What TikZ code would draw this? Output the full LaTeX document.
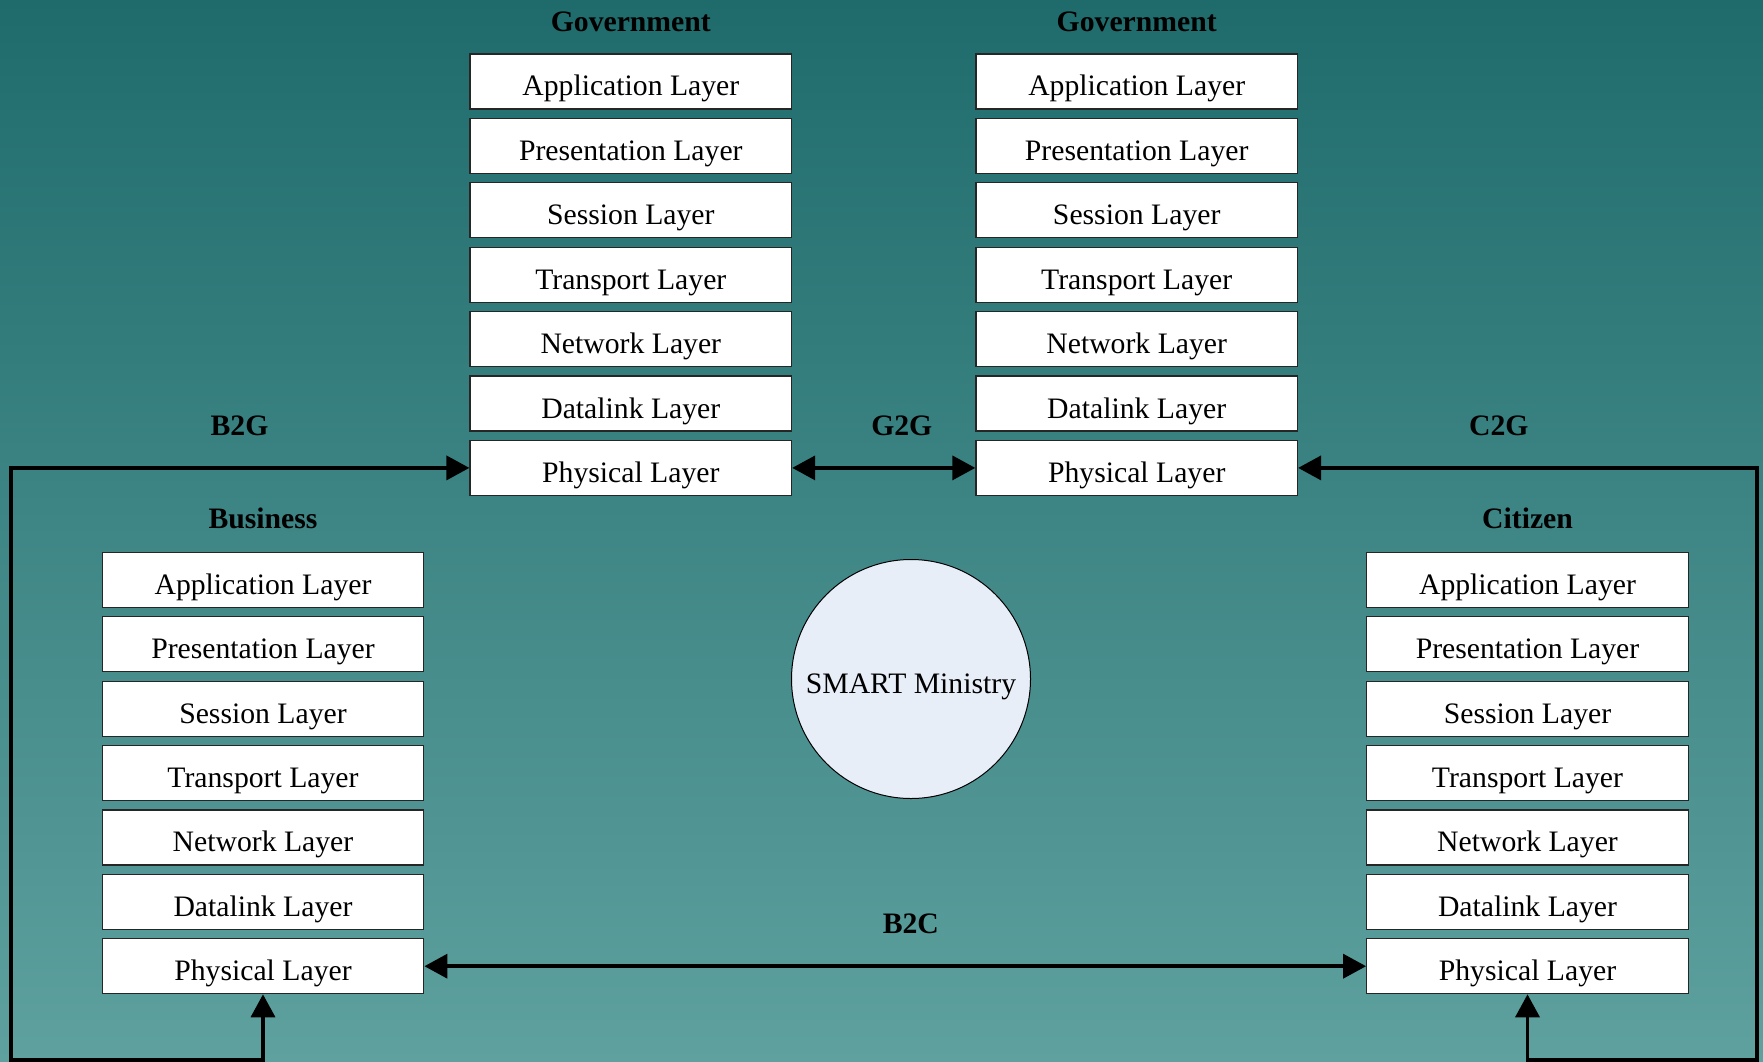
\documentclass[tikz,border=0pt]{standalone}
\usepackage{fontspec}
\setmainfont{Liberation Serif}
\usetikzlibrary{arrows.meta}
\definecolor{bgtop}{HTML}{1F6B6C}
\definecolor{bgbottom}{HTML}{5EA19F}
\definecolor{hubfill}{HTML}{E8EEF8}
\tikzset{
  layerbox/.style={draw=black!85, line width=1.2pt, fill=white,
    minimum width=321.6pt, minimum height=55pt, inner sep=0pt,
    font=\fontsize{29.7}{34}\selectfont, text height=31pt, text depth=2pt},
  grouplabel/.style={font=\fontsize{29.7}{34}\selectfont\bfseries, inner sep=0pt},
  conn/.style={line width=3.6pt, line join=miter,
    {Triangle[length=23pt,width=24pt]}-{Triangle[length=23pt,width=24pt]}},
}
\begin{document}
\begin{tikzpicture}[x=1pt,y=-1pt]
  % background
  \useasboundingbox (0,0) rectangle (1763,1062);
  \shade[top color=bgtop, bottom color=bgbottom] (0,0) rectangle (1763,1062);

  % four OSI stacks
  \foreach \name/\cx/\cy in {gl/630.8/81.5, gr/1136.7/81.5, b/263/579.8, c/1527.5/579.8}{
    \foreach \lay [count=\i] in {Application Layer, Presentation Layer, Session Layer,
        Transport Layer, Network Layer, Datalink Layer, Physical Layer}{
      \node[layerbox] (\name\i) at (\cx, {\cy + (\i-1)*64.4}) {\lay};
    }
  }

  % stack titles
  \node[grouplabel] (tgl) at (630.8, 21.4) {Government};
  \node[grouplabel] (tgr) at (1136.7, 21.4) {Government};
  \node[grouplabel] (tb) at (263, 518.4) {Business};
  \node[grouplabel] (tc) at (1527.5, 518.4) {Citizen};

  % hub
  \node[circle, draw=black, line width=1pt, fill=hubfill, minimum size=239pt,
        inner sep=0pt, text height=31pt, text depth=2pt,
        font=\fontsize{29.7}{34}\selectfont] (hub) at (911, 679) {SMART Ministry};

  % loop corners
  \coordinate (loopL) at (10.7, 1060);
  \coordinate (loopR) at (1757, 1060);

  % connectors
  \draw[conn] (gl7.east) -- (gr7.west);
  \draw[conn] (b7.east) -- (c7.west);
  \draw[conn] (b7.south) |- (loopL) |- (gl7.west);
  \draw[conn] (c7.south) |- (loopR) |- (gr7.east);

  % connector labels
  \node[grouplabel] (lb2g) at (239.5, 426) {B2G};
  \node[grouplabel] (lg2g) at (901.8, 426) {G2G};
  \node[grouplabel] (lc2g) at (1498.8, 426) {C2G};
  \node[grouplabel] (lb2c) at (910.8, 924.2) {B2C};
\end{tikzpicture}
\end{document}
